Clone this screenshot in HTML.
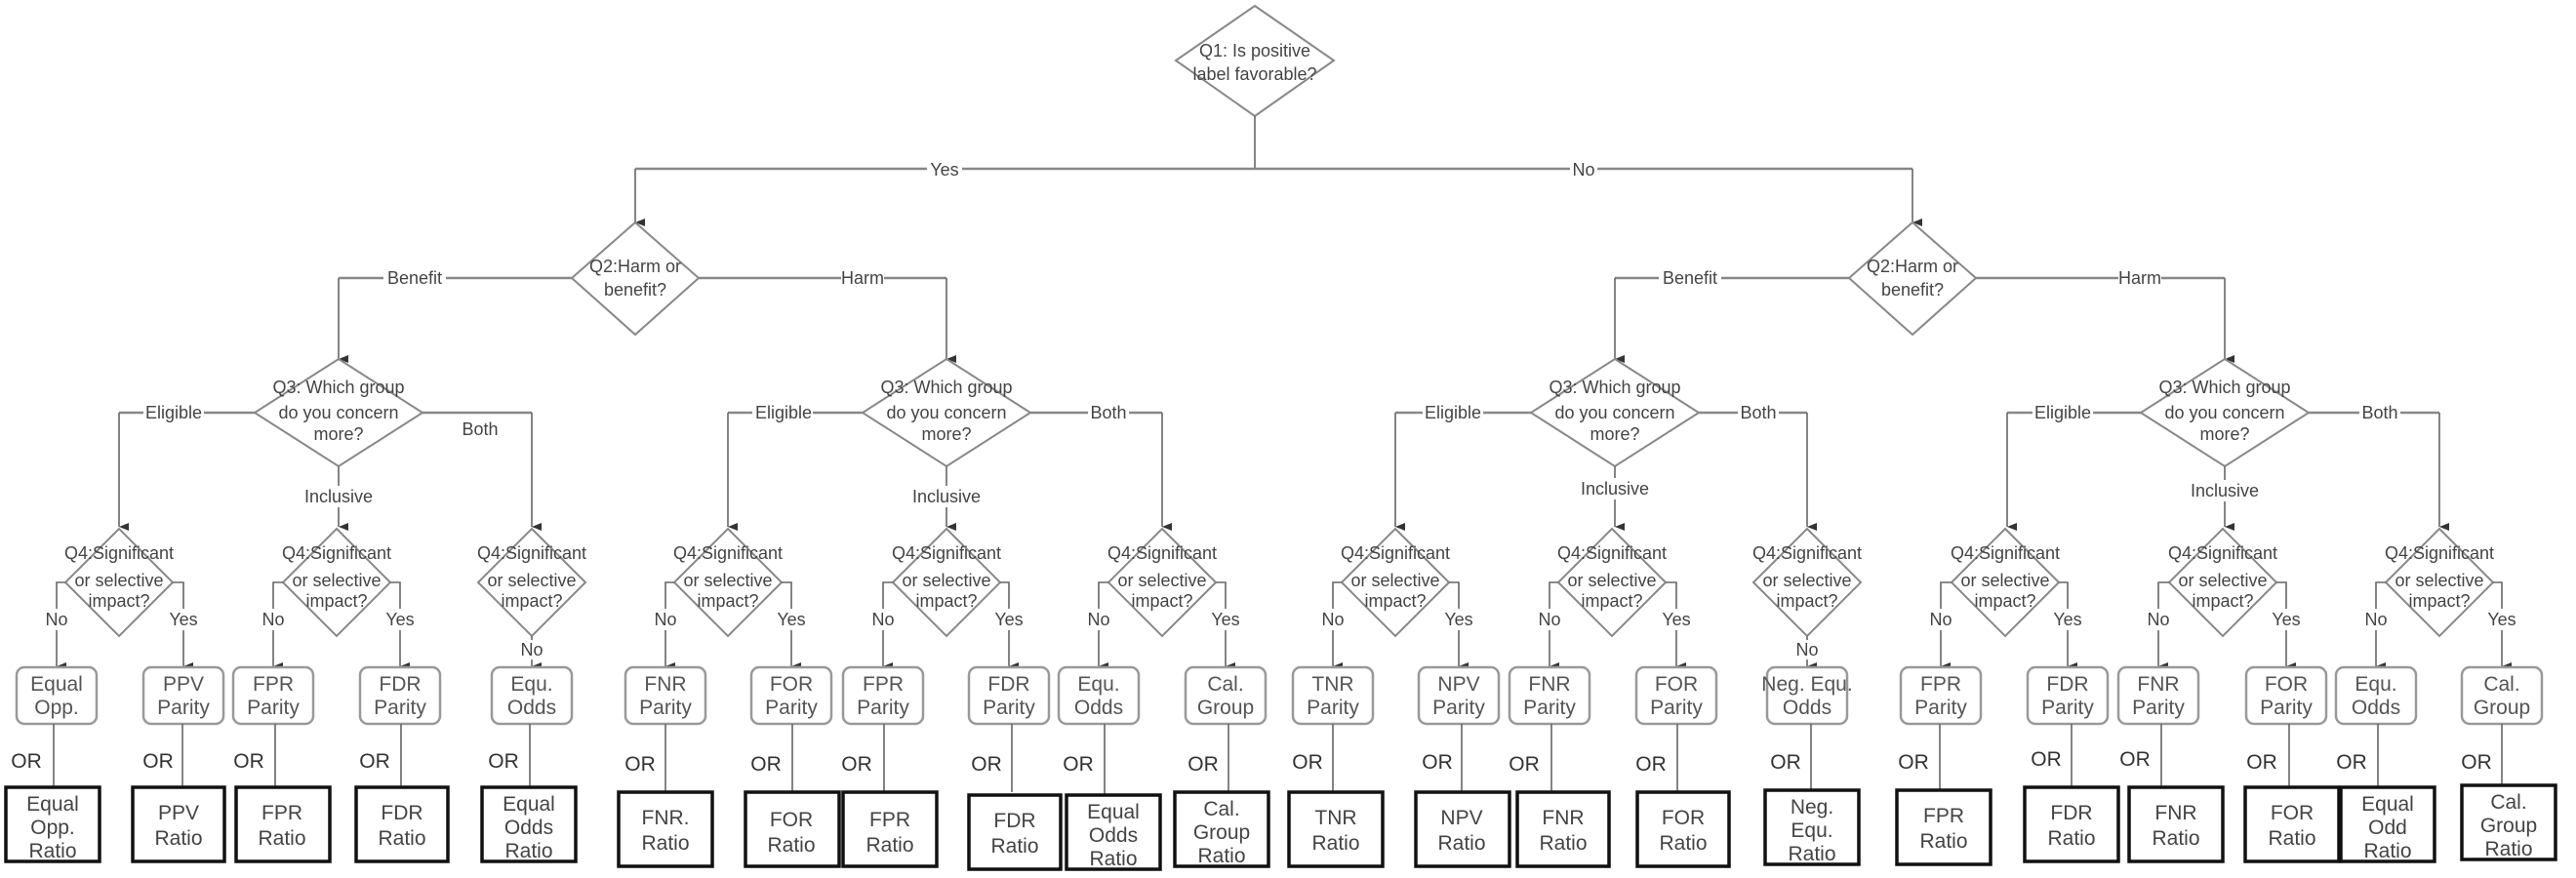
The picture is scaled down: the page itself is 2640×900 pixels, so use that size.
<!DOCTYPE html>
<html><head><meta charset="utf-8"><style>
html,body{margin:0;padding:0;background:#fff;}
svg{display:block;}
text{font-family:"Liberation Sans",Arial,sans-serif;}
.q{font-size:18px;fill:#444;text-anchor:middle;}
.l{font-size:18px;fill:#444;text-anchor:middle;}
.b{font-size:21px;fill:#555;text-anchor:middle;}
.r{font-size:21px;fill:#444;text-anchor:middle;}
.o{font-size:21px;fill:#333;text-anchor:middle;}
.ln{stroke:#666;stroke-width:1.6;fill:none;}
.hl{stroke:#888;stroke-width:2.5;fill:none;}
.d{stroke:#888;stroke-width:2;fill:#fff;}
.bx{stroke:#999;stroke-width:2.5;fill:#fff;}
.rb{stroke:#111;stroke-width:3.5;fill:#fff;}
.bg{fill:#fff;}
</style></head><body>
<svg width="2640" height="900" viewBox="0 0 2640 900" xmlns="http://www.w3.org/2000/svg">
<defs><marker id="a" markerWidth="8" markerHeight="10" refX="4" refY="10" orient="auto-start-reverse" markerUnits="userSpaceOnUse" viewBox="0 0 8 10"><path d="M0,0 L8,0 L4,10 Z" fill="#333"/></marker></defs>

<!-- Q1 -->
<polygon class="d" points="1286,6 1367,62 1286,119 1205,62"/>
<text class="q" x="1286" y="58">Q1: Is positive</text>
<text class="q" x="1286" y="82">label favorable?</text>
<path class="ln" d="M1286,119 V173"/>
<path class="hl" d="M651,173 H1960"/>
<path class="ln" d="M651,173 V228" marker-end="url(#a)"/>
<path class="ln" d="M1960,173 V228" marker-end="url(#a)"/>
<rect class="bg" x="950" y="162" width="36" height="22"/><text class="l" x="968" y="180">Yes</text>
<rect class="bg" x="1609" y="162" width="28" height="22"/><text class="l" x="1623" y="180">No</text>

<!-- Q2 left -->
<polygon class="d" points="651,228 716,285 651,343 586,285"/>
<text class="q" x="651" y="279">Q2:Harm or</text>
<text class="q" x="651" y="303">benefit?</text>
<path class="hl" d="M586,285 H347"/><path class="ln" d="M347,285 V368" marker-end="url(#a)"/>
<path class="hl" d="M716,285 H970"/><path class="ln" d="M970,285 V368" marker-end="url(#a)"/>
<rect class="bg" x="393" y="274" width="64" height="22"/><text class="l" x="425" y="291">Benefit</text>
<rect class="bg" x="862" y="274" width="44" height="22"/><text class="l" x="884" y="291">Harm</text>

<!-- Q2 right -->
<polygon class="d" points="1960,228 2025,285 1960,343 1895,285"/>
<text class="q" x="1960" y="279">Q2:Harm or</text>
<text class="q" x="1960" y="303">benefit?</text>
<path class="hl" d="M1895,285 H1655"/><path class="ln" d="M1655,285 V368" marker-end="url(#a)"/>
<path class="hl" d="M2025,285 H2280"/><path class="ln" d="M2280,285 V368" marker-end="url(#a)"/>
<rect class="bg" x="1700" y="274" width="64" height="22"/><text class="l" x="1732" y="291">Benefit</text>
<rect class="bg" x="2171" y="274" width="44" height="22"/><text class="l" x="2193" y="291">Harm</text>

<!-- Q3 diamonds -->
<g>
<polygon class="d" points="347,368 433,423 347,478 261,423"/>
<text class="q" x="347" y="403">Q3: Which group</text><text class="q" x="347" y="429">do you concern</text><text class="q" x="347" y="451">more?</text>
<path class="hl" d="M261,423 H122"/><path class="ln" d="M122,423 V540" marker-end="url(#a)"/>
<path class="hl" d="M433,423 H545"/><path class="ln" d="M545,423 V540" marker-end="url(#a)"/>
<path class="ln" d="M347,478 V540" marker-end="url(#a)"/>
<rect class="bg" x="147" y="412" width="62" height="22"/><text class="l" x="178" y="429">Eligible</text>
<text class="l" x="492" y="446">Both</text>
<rect class="bg" x="310" y="498" width="74" height="22"/><text class="l" x="347" y="515">Inclusive</text>
</g>
<g>
<polygon class="d" points="970,368 1056,423 970,478 884,423"/>
<text class="q" x="970" y="403">Q3: Which group</text><text class="q" x="970" y="429">do you concern</text><text class="q" x="970" y="451">more?</text>
<path class="hl" d="M884,423 H746"/><path class="ln" d="M746,423 V540" marker-end="url(#a)"/>
<path class="hl" d="M1056,423 H1191"/><path class="ln" d="M1191,423 V540" marker-end="url(#a)"/>
<path class="ln" d="M970,478 V540" marker-end="url(#a)"/>
<rect class="bg" x="771" y="412" width="62" height="22"/><text class="l" x="803" y="429">Eligible</text>
<rect class="bg" x="1115" y="412" width="42" height="22"/><text class="l" x="1136" y="429">Both</text>
<rect class="bg" x="933" y="498" width="74" height="22"/><text class="l" x="970" y="515">Inclusive</text>
</g>
<g>
<polygon class="d" points="1655,368 1741,423 1655,478 1569,423"/>
<text class="q" x="1655" y="403">Q3: Which group</text><text class="q" x="1655" y="429">do you concern</text><text class="q" x="1655" y="451">more?</text>
<path class="hl" d="M1569,423 H1430"/><path class="ln" d="M1430,423 V540" marker-end="url(#a)"/>
<path class="hl" d="M1741,423 H1852"/><path class="ln" d="M1852,423 V540" marker-end="url(#a)"/>
<path class="ln" d="M1655,478 V540" marker-end="url(#a)"/>
<rect class="bg" x="1458" y="412" width="62" height="22"/><text class="l" x="1489" y="429">Eligible</text>
<rect class="bg" x="1781" y="412" width="42" height="22"/><text class="l" x="1802" y="429">Both</text>
<rect class="bg" x="1618" y="490" width="74" height="22"/><text class="l" x="1655" y="507">Inclusive</text>
</g>
<g>
<polygon class="d" points="2280,368 2366,423 2280,478 2194,423"/>
<text class="q" x="2280" y="403">Q3: Which group</text><text class="q" x="2280" y="429">do you concern</text><text class="q" x="2280" y="451">more?</text>
<path class="hl" d="M2194,423 H2057"/><path class="ln" d="M2057,423 V540" marker-end="url(#a)"/>
<path class="hl" d="M2366,423 H2500"/><path class="ln" d="M2500,423 V540" marker-end="url(#a)"/>
<path class="ln" d="M2280,478 V540" marker-end="url(#a)"/>
<rect class="bg" x="2083" y="412" width="62" height="22"/><text class="l" x="2114" y="429">Eligible</text>
<rect class="bg" x="2418" y="412" width="42" height="22"/><text class="l" x="2439" y="429">Both</text>
<rect class="bg" x="2243" y="492" width="74" height="22"/><text class="l" x="2280" y="509">Inclusive</text>
</g>

<!-- Q4 diamonds: two-branch -->
<!-- group template: c, L, R -->
<g>
<polygon class="d" points="122,542 177,597 122,652 67,597"/>
<path class="ln" d="M67,597 H58 V683" marker-end="url(#a)"/><path class="ln" d="M177,597 H188 V683" marker-end="url(#a)"/>
<text class="q" x="122" y="573">Q4:Significant</text><text class="q" x="122" y="601">or selective</text><text class="q" x="122" y="622">impact?</text>
<rect class="bg" x="46" y="624" width="24" height="22"/><text class="l" x="58" y="641">No</text>
<rect class="bg" x="172" y="624" width="32" height="22"/><text class="l" x="188" y="641">Yes</text>
</g>
<g>
<polygon class="d" points="345,542 400,597 345,652 290,597"/>
<path class="ln" d="M290,597 H280 V683" marker-end="url(#a)"/><path class="ln" d="M400,597 H410 V683" marker-end="url(#a)"/>
<text class="q" x="345" y="573">Q4:Significant</text><text class="q" x="345" y="601">or selective</text><text class="q" x="345" y="622">impact?</text>
<rect class="bg" x="268" y="624" width="24" height="22"/><text class="l" x="280" y="641">No</text>
<rect class="bg" x="394" y="624" width="32" height="22"/><text class="l" x="410" y="641">Yes</text>
</g>
<g>
<polygon class="d" points="545,542 600,597 545,652 490,597"/>
<path class="ln" d="M545,652 V683" marker-end="url(#a)"/>
<text class="q" x="545" y="573">Q4:Significant</text><text class="q" x="545" y="601">or selective</text><text class="q" x="545" y="622">impact?</text>
<rect class="bg" x="533" y="656" width="24" height="20"/><text class="l" x="545" y="672">No</text>
</g>
<g>
<polygon class="d" points="746,542 801,597 746,652 691,597"/>
<path class="ln" d="M691,597 H682 V683" marker-end="url(#a)"/><path class="ln" d="M801,597 H811 V683" marker-end="url(#a)"/>
<text class="q" x="746" y="573">Q4:Significant</text><text class="q" x="746" y="601">or selective</text><text class="q" x="746" y="622">impact?</text>
<rect class="bg" x="670" y="624" width="24" height="22"/><text class="l" x="682" y="641">No</text>
<rect class="bg" x="795" y="624" width="32" height="22"/><text class="l" x="811" y="641">Yes</text>
</g>
<g>
<polygon class="d" points="970,542 1025,597 970,652 915,597"/>
<path class="ln" d="M915,597 H905 V683" marker-end="url(#a)"/><path class="ln" d="M1025,597 H1034 V683" marker-end="url(#a)"/>
<text class="q" x="970" y="573">Q4:Significant</text><text class="q" x="970" y="601">or selective</text><text class="q" x="970" y="622">impact?</text>
<rect class="bg" x="893" y="624" width="24" height="22"/><text class="l" x="905" y="641">No</text>
<rect class="bg" x="1018" y="624" width="32" height="22"/><text class="l" x="1034" y="641">Yes</text>
</g>
<g>
<polygon class="d" points="1191,542 1246,597 1191,652 1136,597"/>
<path class="ln" d="M1136,597 H1126 V683" marker-end="url(#a)"/><path class="ln" d="M1246,597 H1256 V683" marker-end="url(#a)"/>
<text class="q" x="1191" y="573">Q4:Significant</text><text class="q" x="1191" y="601">or selective</text><text class="q" x="1191" y="622">impact?</text>
<rect class="bg" x="1114" y="624" width="24" height="22"/><text class="l" x="1126" y="641">No</text>
<rect class="bg" x="1240" y="624" width="32" height="22"/><text class="l" x="1256" y="641">Yes</text>
</g>
<g>
<polygon class="d" points="1430,542 1485,597 1430,652 1375,597"/>
<path class="ln" d="M1375,597 H1366 V683" marker-end="url(#a)"/><path class="ln" d="M1485,597 H1495 V683" marker-end="url(#a)"/>
<text class="q" x="1430" y="573">Q4:Significant</text><text class="q" x="1430" y="601">or selective</text><text class="q" x="1430" y="622">impact?</text>
<rect class="bg" x="1354" y="624" width="24" height="22"/><text class="l" x="1366" y="641">No</text>
<rect class="bg" x="1479" y="624" width="32" height="22"/><text class="l" x="1495" y="641">Yes</text>
</g>
<g>
<polygon class="d" points="1652,542 1707,597 1652,652 1597,597"/>
<path class="ln" d="M1597,597 H1588 V683" marker-end="url(#a)"/><path class="ln" d="M1707,597 H1718 V683" marker-end="url(#a)"/>
<text class="q" x="1652" y="573">Q4:Significant</text><text class="q" x="1652" y="601">or selective</text><text class="q" x="1652" y="622">impact?</text>
<rect class="bg" x="1576" y="624" width="24" height="22"/><text class="l" x="1588" y="641">No</text>
<rect class="bg" x="1702" y="624" width="32" height="22"/><text class="l" x="1718" y="641">Yes</text>
</g>
<g>
<polygon class="d" points="1852,542 1907,597 1852,652 1797,597"/>
<path class="ln" d="M1852,652 V683" marker-end="url(#a)"/>
<text class="q" x="1852" y="573">Q4:Significant</text><text class="q" x="1852" y="601">or selective</text><text class="q" x="1852" y="622">impact?</text>
<rect class="bg" x="1840" y="656" width="24" height="20"/><text class="l" x="1852" y="672">No</text>
</g>
<g>
<polygon class="d" points="2055,542 2110,597 2055,652 2000,597"/>
<path class="ln" d="M2000,597 H1989 V683" marker-end="url(#a)"/><path class="ln" d="M2110,597 H2119 V683" marker-end="url(#a)"/>
<text class="q" x="2055" y="573">Q4:Significant</text><text class="q" x="2055" y="601">or selective</text><text class="q" x="2055" y="622">impact?</text>
<rect class="bg" x="1977" y="624" width="24" height="22"/><text class="l" x="1989" y="641">No</text>
<rect class="bg" x="2103" y="624" width="32" height="22"/><text class="l" x="2119" y="641">Yes</text>
</g>
<g>
<polygon class="d" points="2278,542 2333,597 2278,652 2223,597"/>
<path class="ln" d="M2223,597 H2212 V683" marker-end="url(#a)"/><path class="ln" d="M2333,597 H2343 V683" marker-end="url(#a)"/>
<text class="q" x="2278" y="573">Q4:Significant</text><text class="q" x="2278" y="601">or selective</text><text class="q" x="2278" y="622">impact?</text>
<rect class="bg" x="2200" y="624" width="24" height="22"/><text class="l" x="2212" y="641">No</text>
<rect class="bg" x="2327" y="624" width="32" height="22"/><text class="l" x="2343" y="641">Yes</text>
</g>
<g>
<polygon class="d" points="2500,542 2555,597 2500,652 2445,597"/>
<path class="ln" d="M2445,597 H2435 V683" marker-end="url(#a)"/><path class="ln" d="M2555,597 H2564 V683" marker-end="url(#a)"/>
<text class="q" x="2500" y="573">Q4:Significant</text><text class="q" x="2500" y="601">or selective</text><text class="q" x="2500" y="622">impact?</text>
<rect class="bg" x="2423" y="624" width="24" height="22"/><text class="l" x="2435" y="641">No</text>
<rect class="bg" x="2548" y="624" width="32" height="22"/><text class="l" x="2564" y="641">Yes</text>
</g>

<!-- Rounded boxes + OR + ratio boxes -->
<g>
<!-- 58 -->
<rect class="bx" x="17" y="684" width="82" height="58" rx="8"/><text class="b" x="58" y="708">Equal</text><text class="b" x="58" y="732">Opp.</text>
<path class="ln" d="M55,742 V807"/><text class="o" x="27" y="787">OR</text>
<rect class="rb" x="6" y="807" width="96" height="76"/><text class="r" x="54" y="831">Equal</text><text class="r" x="54" y="855">Opp.</text><text class="r" x="54" y="879">Ratio</text>
<!-- 188 -->
<rect class="bx" x="147" y="684" width="82" height="58" rx="8"/><text class="b" x="188" y="708">PPV</text><text class="b" x="188" y="732">Parity</text>
<path class="ln" d="M187,742 V807"/><text class="o" x="162" y="787">OR</text>
<rect class="rb" x="136" y="807" width="94" height="76"/><text class="r" x="183" y="840">PPV</text><text class="r" x="183" y="866">Ratio</text>
<!-- 280 -->
<rect class="bx" x="239" y="684" width="82" height="58" rx="8"/><text class="b" x="280" y="708">FPR</text><text class="b" x="280" y="732">Parity</text>
<path class="ln" d="M282,742 V807"/><text class="o" x="255" y="787">OR</text>
<rect class="rb" x="242" y="807" width="96" height="76"/><text class="r" x="289" y="840">FPR</text><text class="r" x="289" y="866">Ratio</text>
<!-- 410 -->
<rect class="bx" x="369" y="684" width="82" height="58" rx="8"/><text class="b" x="410" y="708">FDR</text><text class="b" x="410" y="732">Parity</text>
<path class="ln" d="M411,742 V807"/><text class="o" x="384" y="787">OR</text>
<rect class="rb" x="365" y="807" width="94" height="76"/><text class="r" x="412" y="840">FDR</text><text class="r" x="412" y="866">Ratio</text>
<!-- 545 -->
<rect class="bx" x="504" y="684" width="82" height="58" rx="8"/><text class="b" x="545" y="708">Equ.</text><text class="b" x="545" y="732">Odds</text>
<path class="ln" d="M543,742 V807"/><text class="o" x="516" y="787">OR</text>
<rect class="rb" x="494" y="807" width="96" height="76"/><text class="r" x="542" y="831">Equal</text><text class="r" x="542" y="855">Odds</text><text class="r" x="542" y="879">Ratio</text>
<!-- 682 -->
<rect class="bx" x="641" y="684" width="82" height="58" rx="8"/><text class="b" x="682" y="708">FNR</text><text class="b" x="682" y="732">Parity</text>
<path class="ln" d="M682,742 V812"/><text class="o" x="656" y="790">OR</text>
<rect class="rb" x="634" y="812" width="96" height="76"/><text class="r" x="682" y="845">FNR.</text><text class="r" x="682" y="871">Ratio</text>
<!-- 811 -->
<rect class="bx" x="770" y="684" width="82" height="58" rx="8"/><text class="b" x="811" y="708">FOR</text><text class="b" x="811" y="732">Parity</text>
<path class="ln" d="M812,742 V812"/><text class="o" x="785" y="790">OR</text>
<rect class="rb" x="764" y="812" width="96" height="76"/><text class="r" x="811" y="847">FOR</text><text class="r" x="811" y="873">Ratio</text>
<!-- 905 -->
<rect class="bx" x="864" y="684" width="82" height="58" rx="8"/><text class="b" x="905" y="708">FPR</text><text class="b" x="905" y="732">Parity</text>
<path class="ln" d="M906,742 V812"/><text class="o" x="878" y="790">OR</text>
<rect class="rb" x="864" y="812" width="96" height="76"/><text class="r" x="912" y="847">FPR</text><text class="r" x="912" y="873">Ratio</text>
<!-- 1034 -->
<rect class="bx" x="993" y="684" width="82" height="58" rx="8"/><text class="b" x="1034" y="708">FDR</text><text class="b" x="1034" y="732">Parity</text>
<path class="ln" d="M1037,742 V812"/><text class="o" x="1011" y="790">OR</text>
<rect class="rb" x="993" y="815" width="94" height="76"/><text class="r" x="1040" y="848">FDR</text><text class="r" x="1040" y="874">Ratio</text>
<!-- 1126 -->
<rect class="bx" x="1085" y="684" width="82" height="58" rx="8"/><text class="b" x="1126" y="708">Equ.</text><text class="b" x="1126" y="732">Odds</text>
<path class="ln" d="M1132,742 V815"/><text class="o" x="1105" y="790">OR</text>
<rect class="rb" x="1093" y="815" width="96" height="76"/><text class="r" x="1141" y="839">Equal</text><text class="r" x="1141" y="863">Odds</text><text class="r" x="1141" y="887">Ratio</text>
<!-- 1256 -->
<rect class="bx" x="1215" y="684" width="82" height="58" rx="8"/><text class="b" x="1256" y="708">Cal.</text><text class="b" x="1256" y="732">Group</text>
<path class="ln" d="M1259,742 V812"/><text class="o" x="1233" y="790">OR</text>
<rect class="rb" x="1204" y="812" width="96" height="76"/><text class="r" x="1252" y="836">Cal.</text><text class="r" x="1252" y="860">Group</text><text class="r" x="1252" y="884">Ratio</text>
</g>
<g>
<!-- 1366 -->
<rect class="bx" x="1325" y="684" width="82" height="58" rx="8"/><text class="b" x="1366" y="708">TNR</text><text class="b" x="1366" y="732">Parity</text>
<path class="ln" d="M1366,742 V812"/><text class="o" x="1340" y="788">OR</text>
<rect class="rb" x="1321" y="812" width="96" height="76"/><text class="r" x="1369" y="845">TNR</text><text class="r" x="1369" y="871">Ratio</text>
<!-- 1495 -->
<rect class="bx" x="1454" y="684" width="82" height="58" rx="8"/><text class="b" x="1495" y="708">NPV</text><text class="b" x="1495" y="732">Parity</text>
<path class="ln" d="M1498,742 V812"/><text class="o" x="1473" y="788">OR</text>
<rect class="rb" x="1451" y="812" width="96" height="76"/><text class="r" x="1498" y="845">NPV</text><text class="r" x="1498" y="871">Ratio</text>
<!-- 1588 -->
<rect class="bx" x="1547" y="684" width="82" height="58" rx="8"/><text class="b" x="1588" y="708">FNR</text><text class="b" x="1588" y="732">Parity</text>
<path class="ln" d="M1590,742 V812"/><text class="o" x="1562" y="790">OR</text>
<rect class="rb" x="1555" y="812" width="94" height="76"/><text class="r" x="1602" y="845">FNR</text><text class="r" x="1602" y="871">Ratio</text>
<!-- 1718 -->
<rect class="bx" x="1677" y="684" width="82" height="58" rx="8"/><text class="b" x="1718" y="708">FOR</text><text class="b" x="1718" y="732">Parity</text>
<path class="ln" d="M1719,742 V812"/><text class="o" x="1692" y="790">OR</text>
<rect class="rb" x="1678" y="812" width="94" height="76"/><text class="r" x="1725" y="845">FOR</text><text class="r" x="1725" y="871">Ratio</text>
<!-- 1852 -->
<rect class="bx" x="1811" y="684" width="82" height="58" rx="8"/><text class="b" x="1852" y="708">Neg. Equ.</text><text class="b" x="1852" y="732">Odds</text>
<path class="ln" d="M1856,742 V810"/><text class="o" x="1830" y="788">OR</text>
<rect class="rb" x="1809" y="810" width="96" height="76"/><text class="r" x="1857" y="834">Neg.</text><text class="r" x="1857" y="858">Equ.</text><text class="r" x="1857" y="882">Ratio</text>
<!-- 1989 -->
<rect class="bx" x="1948" y="684" width="82" height="58" rx="8"/><text class="b" x="1989" y="708">FPR</text><text class="b" x="1989" y="732">Parity</text>
<path class="ln" d="M1988,742 V810"/><text class="o" x="1961" y="788">OR</text>
<rect class="rb" x="1944" y="810" width="96" height="76"/><text class="r" x="1992" y="843">FPR</text><text class="r" x="1992" y="869">Ratio</text>
<!-- 2119 -->
<rect class="bx" x="2078" y="684" width="82" height="58" rx="8"/><text class="b" x="2119" y="708">FDR</text><text class="b" x="2119" y="732">Parity</text>
<path class="ln" d="M2123,742 V807"/><text class="o" x="2097" y="785">OR</text>
<rect class="rb" x="2075" y="807" width="96" height="76"/><text class="r" x="2123" y="840">FDR</text><text class="r" x="2123" y="866">Ratio</text>
<!-- 2212 -->
<rect class="bx" x="2171" y="684" width="82" height="58" rx="8"/><text class="b" x="2212" y="708">FNR</text><text class="b" x="2212" y="732">Parity</text>
<path class="ln" d="M2215,742 V807"/><text class="o" x="2188" y="785">OR</text>
<rect class="rb" x="2182" y="807" width="96" height="76"/><text class="r" x="2230" y="840">FNR</text><text class="r" x="2230" y="866">Ratio</text>
<!-- 2343 -->
<rect class="bx" x="2302" y="684" width="82" height="58" rx="8"/><text class="b" x="2343" y="708">FOR</text><text class="b" x="2343" y="732">Parity</text>
<path class="ln" d="M2346,742 V807"/><text class="o" x="2318" y="788">OR</text>
<rect class="rb" x="2301" y="807" width="96" height="76"/><text class="r" x="2349" y="840">FOR</text><text class="r" x="2349" y="866">Ratio</text>
<!-- 2435 -->
<rect class="bx" x="2394" y="684" width="82" height="58" rx="8"/><text class="b" x="2435" y="708">Equ.</text><text class="b" x="2435" y="732">Odds</text>
<path class="ln" d="M2437,742 V807"/><text class="o" x="2410" y="788">OR</text>
<rect class="rb" x="2399" y="807" width="96" height="76"/><text class="r" x="2447" y="831">Equal</text><text class="r" x="2447" y="855">Odd</text><text class="r" x="2447" y="879">Ratio</text>
<!-- 2564 -->
<rect class="bx" x="2523" y="684" width="82" height="58" rx="8"/><text class="b" x="2564" y="708">Cal.</text><text class="b" x="2564" y="732">Group</text>
<path class="ln" d="M2564,742 V805"/><text class="o" x="2538" y="788">OR</text>
<rect class="rb" x="2523" y="805" width="96" height="76"/><text class="r" x="2571" y="829">Cal.</text><text class="r" x="2571" y="853">Group</text><text class="r" x="2571" y="877">Ratio</text>
</g>
</svg>
</body></html>
